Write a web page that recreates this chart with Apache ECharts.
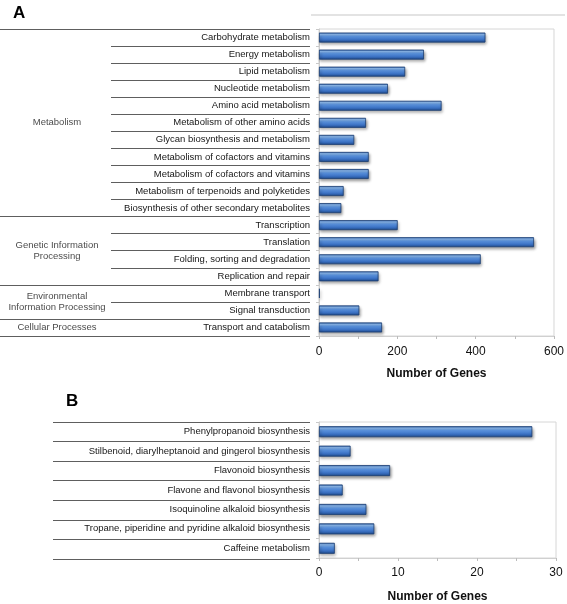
<!DOCTYPE html>
<html><head><meta charset="utf-8">
<script src="https://cdn.jsdelivr.net/npm/echarts@6/dist/echarts.min.js"></script>
<style>html,body{margin:0;padding:0;background:#fff}#c{width:567px;height:604px}</style>
</head><body><div id="c"></div>
<script>
var catsA = ['Carbohydrate metabolism','Energy metabolism','Lipid metabolism','Nucleotide metabolism','Amino acid metabolism','Metabolism of other amino acids','Glycan biosynthesis and metabolism','Metabolism of cofactors and vitamins','Metabolism of cofactors and vitamins','Metabolism of terpenoids and polyketides','Biosynthesis of other secondary metabolites','Transcription','Translation','Folding, sorting and degradation','Replication and repair','Membrane transport','Signal transduction','Transport and catabolism'];
var valsA = [425,268,220,176,313,120,90,127,127,63,57,201,549,413,152,2,103,161];
var groupsA = ['Metabolism','Genetic Information\nProcessing','Environmental\nInformation Processing','Cellular Processes'];
var groupSizesA = [11,4,2,1];
var catsB = ['Phenylpropanoid biosynthesis','Stilbenoid, diarylheptanoid and gingerol biosynthesis','Flavonoid biosynthesis','Flavone and flavonol biosynthesis','Isoquinoline alkaloid biosynthesis','Tropane, piperidine and pyridine alkaloid biosynthesis','Caffeine metabolism'];
var valsB = [27,4,9,3,6,7,2];
var axisA = {max: 600, tick: 100, label: 200};
var axisB = {max: 30, tick: 5, label: 10};
var axisTitle = 'Number of Genes';

var FONT = 'Liberation Sans, Arial, sans-serif';
var barColor = new echarts.graphic.LinearGradient(0,0,0,1,[
  {offset:0,color:'#2d5ea8'},{offset:0.18,color:'#8fbdf2'},{offset:0.4,color:'#5a93e0'},
  {offset:0.72,color:'#3a70c2'},{offset:1,color:'#1f4a8a'}]);
var barStyle = {color: barColor, borderColor:'#1c3f74', borderWidth:0.8,
  shadowColor:'rgba(0,0,0,0.4)', shadowBlur:3, shadowOffsetX:1, shadowOffsetY:2};

// group boundaries and centers
var gb = [0], gc = [];
groupSizesA.forEach(function(s,i){ gc.push(gb[i] + s/2); gb.push(gb[i]+s); });
var subA = catsA.map(function(_,i){return i;}).concat([catsA.length]);
var subB = catsB.map(function(_,i){return i;}).concat([catsB.length]);
function ml(vals){ return {silent:true, symbol:'none', label:{show:false},
  lineStyle:{type:'solid', color:'#5e5e5e', width:1.2}, animation:false,
  data: vals.map(function(v){return {yAxis:v};})}; }

function valX(gi, ax, nameGap, margin){
  return {type:'value', gridIndex:gi, min:0, max:ax.max, interval:ax.tick,
    axisLine:{show:true, lineStyle:{color:'#d0d0d0'}},
    axisTick:{show:true, length:3, lineStyle:{color:'#bcbcbc'}},
    splitLine:{show:false},
    axisLabel:{margin:margin, fontSize:12, color:'#111', fontFamily:FONT,
      formatter:function(v){ return v % ax.label === 0 ? String(v) : ''; }},
    name: axisTitle, nameLocation:'middle', nameGap:nameGap,
    nameTextStyle:{fontSize:12, fontWeight:'bold', color:'#111', fontFamily:FONT}};
}
function catY(gi, cats){
  return {type:'category', gridIndex:gi, data:cats, inverse:true,
    axisLine:{show:true, lineStyle:{color:'#d0d0d0'}},
    axisTick:{show:true, length:3, lineStyle:{color:'#c8c8c8'}},
    axisLabel:{fontSize:9.5, color:'#161616', fontFamily:FONT, margin:9}};
}
function hidX(gi,max){ return {type:'value', gridIndex:gi, min:0, max:max, show:false}; }
function hidY(gi,max){ return {type:'value', gridIndex:gi, min:0, max:max, inverse:true, show:false}; }

var option = {
  animation:false,
  title:[
    {text:'A', left:13, top:5, padding:0, textStyle:{fontSize:17, fontWeight:'bold', color:'#000', fontFamily:FONT}},
    {text:'B', left:66, top:393, padding:0, textStyle:{fontSize:17, fontWeight:'bold', color:'#000', fontFamily:FONT}}
  ],
  graphic:[{type:'line', shape:{x1:311,y1:15,x2:565,y2:15}, style:{stroke:'#e3e3e3', lineWidth:2}}],
  grid:[
    {left:319, width:236, top:29, height:307, show:true, borderColor:'#d6d6d6', borderWidth:1},
    {left:111, width:199, top:29, height:307},
    {left:0, width:310, top:29, height:307},
    {left:319, width:237, top:422, height:137, show:true, borderColor:'#d6d6d6', borderWidth:1},
    {left:53, width:257, top:422, height:137}
  ],
  xAxis:[ valX(0, axisA, 32, 10), hidX(1,1), hidX(2,310), valX(3, axisB, 33, 9), hidX(4,1) ],
  yAxis:[ catY(0, catsA), hidY(1, catsA.length), hidY(2, catsA.length), catY(3, catsB), hidY(4, catsB.length) ],
  series:[
    {type:'bar', xAxisIndex:0, yAxisIndex:0, data:valsA, barWidth:10, itemStyle:barStyle},
    {type:'scatter', xAxisIndex:1, yAxisIndex:1, data:[[0,0]], symbolSize:0, markLine:ml(subA)},
    {type:'scatter', xAxisIndex:2, yAxisIndex:2, symbolSize:0, markLine:ml(gb),
      data: groupsA.map(function(g,i){ return {value:[57, gc[i]], name:g}; }),
      label:{show:true, position:'inside', formatter:'{b}', fontSize:9.5, lineHeight:11, color:'#161616', fontFamily:FONT, align:'center', verticalAlign:'middle'}},
    {type:'bar', xAxisIndex:3, yAxisIndex:3, data:valsB, barWidth:11, itemStyle:barStyle},
    {type:'scatter', xAxisIndex:4, yAxisIndex:4, data:[[0,0]], symbolSize:0, markLine:ml(subB)}
  ]
};
var chart = echarts.init(document.getElementById('c'), null, {renderer:'canvas'});
chart.setOption(option);
</script></body></html>
